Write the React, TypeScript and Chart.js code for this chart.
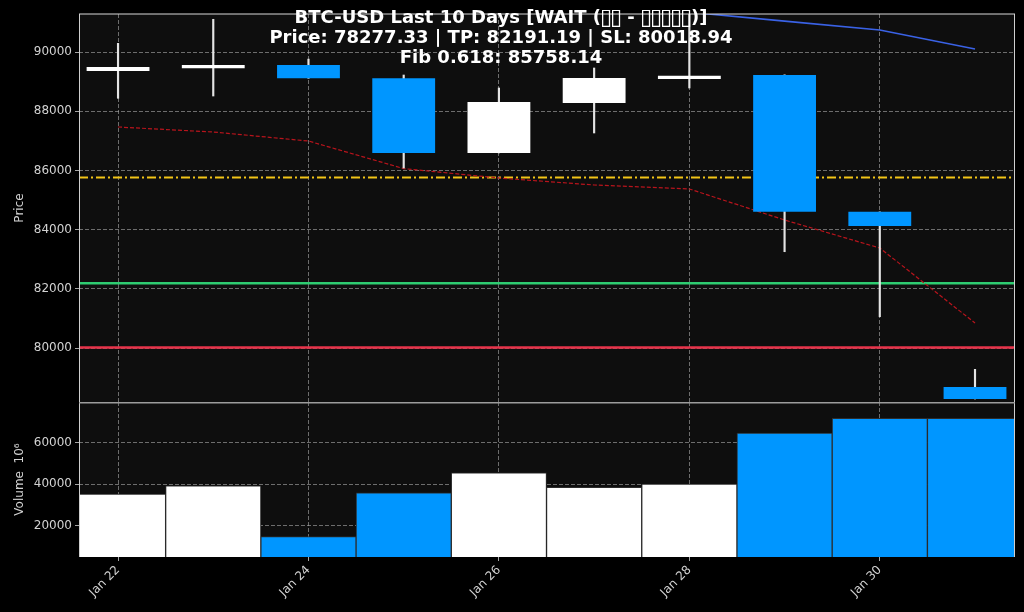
import { useEffect, useRef } from "react";
import Chart from "chart.js/auto";

// ---- data ----
const dates = ["Jan 22", "Jan 23", "Jan 24", "Jan 25", "Jan 26", "Jan 27", "Jan 28", "Jan 29", "Jan 30", "Jan 31"];
const opens = [89360, 89450, 89560, 89110, 86590, 88280, 89090, 89220, 84600, 78680];
const closes = [89490, 89560, 89110, 86590, 88310, 89120, 89200, 84600, 84120, 78277.33];
const highs = [90294, 91105, 89760, 89223, 88784, 89460, 91400, 89230, 84600, 79280];
const lows = [88436, 88513, 89110, 86081, 86590, 87264, 88784, 83253, 81057, 78277.33];
const volumes = [35300, 39300, 14700, 35900, 45600, 38600, 40100, 64800, 71900, 71900];
const maShort = [87466, 87297, 86993, 86061, 85743, 85507, 85372, 84324, 83378, 80845];
const maLong: (number | null)[] = [null, null, null, null, null, null, 91345, 91044, 90743, 90101];
const lastPrice = 78277.33;
const takeProfit = 82191.19;
const stopLoss = 80018.94;
const fib618 = 85758.14;
const priceTicks = [80000, 82000, 84000, 86000, 88000, 90000];
const volumeTicks = [20000, 40000, 60000];
const dateTickIdx = [0, 2, 4, 6, 8];
// line 1 as [text, isMissingGlyph] runs (the original renders unsupported glyphs as boxes)
const titleLine1: [string, boolean][] = [
  ["BTC-USD Last 10 Days [WAIT (", false],
  ["▯▯", true],
  [" - ", false],
  ["▯▯▯▯▯", true],
  [")]", false],
];
const titleLine2 = `Price: ${lastPrice.toFixed(2)} | TP: ${takeProfit.toFixed(2)} | SL: ${stopLoss.toFixed(2)}`;
const titleLine3 = `Fib 0.618: ${fib618.toFixed(2)}`;

const UP = "#ffffff";
const DOWN = "#0096ff";
const X_MIN = -0.41;
const X_MAX = 9.42;
const FONT = "'DejaVu Sans', sans-serif";
const TICK_COLOR = "#d2d2d2";
const GRID_COLOR = "rgba(175,175,175,0.75)";

const candleColors = opens.map((o, i) => (closes[i] >= o ? UP : DOWN));

const bgPlugin = {
  id: "bg",
  beforeDraw(chart: any) {
    const { ctx, chartArea: a } = chart;
    ctx.save();
    ctx.fillStyle = "#000";
    ctx.fillRect(0, 0, chart.width, chart.height);
    ctx.fillStyle = "#0e0e0e";
    ctx.fillRect(a.left, a.top, a.right - a.left, a.bottom - a.top);
    ctx.restore();
  },
};

const frame = (topColor: string, topWidth: number) => ({
  id: "frame",
  afterDraw(chart: any) {
    const { ctx, chartArea: a } = chart;
    ctx.save();
    ctx.strokeStyle = "#cfcfcf";
    ctx.lineWidth = 1;
    ctx.beginPath();
    ctx.moveTo(a.left + 0.5, a.top);
    ctx.lineTo(a.left + 0.5, a.bottom);
    ctx.moveTo(a.right - 0.5, a.top);
    ctx.lineTo(a.right - 0.5, a.bottom);
    ctx.stroke();
    ctx.strokeStyle = topColor;
    ctx.lineWidth = topWidth;
    ctx.beginPath();
    ctx.moveTo(a.left, a.top + topWidth / 2 - 0.5);
    ctx.lineTo(a.right, a.top + topWidth / 2 - 0.5);
    ctx.stroke();
    ctx.restore();
  },
});

const TITLE_FONT = `bold 18px ${FONT}`;
const BOX_FONT = `22px ${FONT}`;
const BOX_ADVANCE = 10;
const TITLE_CX = 501;

const titlePlugin = {
  id: "suptitle",
  afterDraw(chart: any) {
    const { ctx } = chart;
    ctx.save();
    ctx.fillStyle = "#ffffff";
    ctx.textBaseline = "alphabetic";
    // line 1 in runs
    const widths = titleLine1.map(([t, box]) => {
      if (box) return Array.from(t).length * BOX_ADVANCE;
      ctx.font = TITLE_FONT;
      return ctx.measureText(t).width;
    });
    const total = widths.reduce((s, w) => s + w, 0);
    let x = TITLE_CX - total / 2;
    titleLine1.forEach(([t, box], i) => {
      if (box) {
        ctx.font = BOX_FONT;
        ctx.textAlign = "center";
        Array.from(t).forEach((ch, k) => ctx.fillText(ch, x + BOX_ADVANCE * (k + 0.5), 23.5));
      } else {
        ctx.font = TITLE_FONT;
        ctx.textAlign = "left";
        ctx.fillText(t, x, 22.7);
      }
      x += widths[i];
    });
    ctx.font = TITLE_FONT;
    ctx.textAlign = "center";
    ctx.fillText(titleLine2, TITLE_CX, 43);
    ctx.fillText(titleLine3, TITLE_CX, 63.3);
    ctx.restore();
  },
};

const hline = (v: number, color: string, width: number, dash: number[], label: string) => ({
  type: "line" as const,
  label,
  data: [{ x: X_MIN, y: v }, { x: X_MAX, y: v }],
  borderColor: color,
  borderWidth: width,
  borderDash: dash,
  pointRadius: 0,
  order: 5,
});

const noPad = (axis: any) => {
  axis.paddingTop = 0;
  axis.paddingBottom = 0;
  axis.paddingLeft = 0;
  axis.paddingRight = 0;
};

const xScaleBase = {
  type: "linear" as const,
  min: X_MIN,
  max: X_MAX,
  offset: false,
  afterBuildTicks: (axis: any) => {
    axis.ticks = dateTickIdx.map((v) => ({ value: v }));
  },
  grid: { offset: false, color: GRID_COLOR, lineWidth: 0.8, tickColor: "#cfcfcf", tickLength: 4 },
  border: { display: false, dash: [4, 2] },
};

const yScale = (min: number, max: number, ticks: number[], title: string) => ({
  type: "linear",
  min,
  max,
  afterBuildTicks: (axis: any) => {
    axis.ticks = ticks.map((v) => ({ value: v }));
  },
  afterFit: (axis: any) => {
    axis.width = 79;
    noPad(axis);
  },
  ticks: {
    color: TICK_COLOR,
    font: { family: FONT, size: 12 },
    padding: 3,
    callback: (v: any) => String(v),
  },
  grid: { color: GRID_COLOR, lineWidth: 0.8, tickColor: "#cfcfcf", tickLength: 4 },
  border: { display: false, dash: [4, 2] },
  title: {
    display: true,
    text: title,
    color: TICK_COLOR,
    font: { family: FONT, size: 12 },
    padding: { top: 13, bottom: 0 },
  },
});

export default function App() {
  const priceRef = useRef<HTMLCanvasElement>(null);
  const volRef = useRef<HTMLCanvasElement>(null);

  useEffect(() => {
    const pc = new Chart(priceRef.current!, {
      type: "bar",
      data: {
        datasets: [
          {
            type: "bar",
            label: "Body",
            data: dates.map((_, i) => ({ x: i, y: [opens[i], closes[i]] })) as any,
            backgroundColor: candleColors,
            borderWidth: 0,
            barPercentage: 0.66,
            categoryPercentage: 1,
            grouped: false,
            order: 0,
          } as any,
          {
            type: "bar",
            label: "Wick",
            data: dates.map((_, i) => ({ x: i, y: [lows[i], highs[i]] })) as any,
            backgroundColor: "#e4e4e4",
            barThickness: 1.5,
            grouped: false,
            order: 1,
          } as any,
          {
            type: "line",
            label: "MA short",
            data: maShort.map((v, i) => ({ x: i, y: v })),
            borderColor: "#b8141c",
            borderWidth: 1.2,
            borderDash: [4, 2],
            pointRadius: 0,
            order: 3,
          },
          {
            type: "line",
            label: "MA long",
            data: maLong.map((v, i) => ({ x: i, y: v })),
            borderColor: "#3a62e6",
            borderWidth: 1.6,
            pointRadius: 0,
            order: 3,
          },
          hline(fib618, "#f2c417", 2, [9, 3, 2, 3], "Fib 0.618"),
          hline(takeProfit, "#2ecc71", 2.5, [], "TP"),
          hline(stopLoss, "#e8334a", 2.5, [], "SL"),
        ] as any,
      },
      options: {
        animation: false,
        responsive: false,
        layout: { padding: { top: 14, right: 9, bottom: 0, left: 0 } },
        plugins: { legend: { display: false }, tooltip: { enabled: false }, title: { display: false } },
        scales: {
          x: {
            ...xScaleBase,
            ticks: { display: false },
            grid: { ...xScaleBase.grid, drawTicks: false },
            afterFit: (axis: any) => {
              axis.height = 0;
              noPad(axis);
            },
          } as any,
          y: yScale(78176, 91284, priceTicks, "Price") as any,
        },
      },
      plugins: [bgPlugin, frame("#d8d8d8", 1), titlePlugin],
    });

    const vc = new Chart(volRef.current!, {
      type: "bar",
      data: {
        datasets: [
          {
            label: "Volume",
            data: volumes.map((v, i) => ({ x: i, y: v })),
            backgroundColor: candleColors,
            borderColor: "#2c2c2c",
            borderWidth: 1,
            barPercentage: 1,
            categoryPercentage: 1,
          } as any,
        ],
      },
      options: {
        animation: false,
        responsive: false,
        layout: { padding: { top: 0, right: 9, bottom: 0, left: 0 } },
        plugins: { legend: { display: false }, tooltip: { enabled: false } },
        scales: {
          x: {
            ...xScaleBase,
            ticks: {
              color: TICK_COLOR,
              font: { family: FONT, size: 12 },
              minRotation: 45,
              maxRotation: 45,
              autoSkip: false,
              padding: 2,
              callback: (v: any) => dates[Number(v)] ?? "",
            },
            afterFit: (axis: any) => {
              axis.height = 55;
              noPad(axis);
            },
          } as any,
          y: yScale(4879, 79807, volumeTicks, "Volume  10⁶") as any,
        },
      },
      plugins: [bgPlugin, frame("#9c9c9c", 2)],
    });

    return () => {
      pc.destroy();
      vc.destroy();
    };
  }, []);

  return (
    <div style={{ position: "fixed", left: 0, top: 0, width: 1024, height: 612, background: "#000" }}>
      <canvas ref={priceRef} width={1024} height={402} style={{ position: "absolute", left: 0, top: 0 }} />
      <canvas ref={volRef} width={1024} height={210} style={{ position: "absolute", left: 0, top: 402 }} />
    </div>
  );
}
